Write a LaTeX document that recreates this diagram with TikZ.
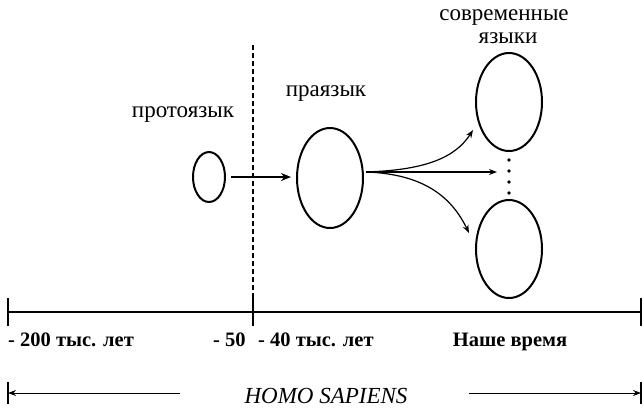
\documentclass[tikz,border=0pt]{standalone}
\usepackage{fontspec}
\setmainfont{Liberation Serif}
\usetikzlibrary{arrows.meta,shapes.geometric}
\begin{document}
\begin{tikzpicture}[x=1pt,y=-1pt,
  lang/.style={draw,ellipse,line width=2pt,inner sep=0pt},
  lbl/.style={font=\fontsize{23}{17}\selectfont,inner sep=0pt,anchor=base},
  tlbl/.style={font=\fontsize{20.5}{20}\selectfont\bfseries,inner sep=0pt,anchor=base west},
  arr/.style={-{Stealth[length=8pt,width=6pt]},line width=1.2pt},
  axis/.style={line width=2.6pt}]
\useasboundingbox (0,0) rectangle (644,408);
% timeline
\coordinate (t0) at (8,312);
\coordinate (t1) at (253,312);
\coordinate (t2) at (641,312);
\draw[axis] (t0) -- (t2);
\foreach \c in {t0,t1,t2} \draw[axis] ([yshift=-14pt]\c) -- ([yshift=14pt]\c);
\coordinate (dtop) at (253,45);
\draw[line width=1.2pt,dash pattern=on 5pt off 3pt] (dtop) -- ([yshift=-14pt]t1);
% ellipses
\node[lang,minimum width=32pt,minimum height=50pt] (proto) at (209,177) {};
\node[lang,minimum width=66pt,minimum height=100pt] (pra) at (330,178) {};
\node[lang,minimum width=66pt,minimum height=98pt] (m1) at (509,102) {};
\node[lang,minimum width=66pt,minimum height=98pt] (m2) at (509,249) {};
% dots
\foreach \y [count=\i] in {160,171,182,193} \fill (509,\y) circle (1.8pt);
% arrows
\coordinate (pa) at (231,177);
\coordinate (pb) at (291,177);
\draw[-{Stealth[length=10pt,width=8pt]},line width=2.2pt] (pa) -- (pb);
\coordinate (src) at (366,172);
\coordinate (ta) at (473,130);
\coordinate (tb) at (497,172);
\coordinate (tc) at (469,233);
\draw[arr] (src) .. controls (425,170) and (455,158) .. (ta);
\draw[arr] (src) -- (tb);
\draw[arr] (src) .. controls (425,174) and (452,198) .. (tc);
% labels
\node[lbl] (lproto) at (183,117) {протоязык};
\node[lbl] (lpra) at (326,96) {праязык};
\node[lbl] (lmod1) at (504,20) {современные};
\node[lbl,text height=11pt] (lmod2) at (508,43) {языки};
\node[tlbl] (l200) at (8,346) {- 200 тыс. лет};
\node[tlbl] (l50) at (213,346) {- 50};
\node[tlbl] (l40) at (258,346) {- 40 тыс. лет};
\node[tlbl,anchor=base] (lnow) at (510,346) {Наше время};
% homo sapiens
\node[lbl,font=\fontsize{23}{17}\selectfont\itshape] (hs) at (326,403) {HOMO SAPIENS};
\coordinate (hl) at (8,393);
\coordinate (hr) at (641,393);
\coordinate (hla) at (180,393);
\coordinate (hra) at (469,393);
\draw[-{Stealth[length=8pt,width=6pt]},line width=1pt] (hla) -- (hl);
\draw[-{Stealth[length=8pt,width=6pt]},line width=1pt] (hra) -- (hr);
\draw[line width=1.4pt] ([yshift=-11pt]hl) -- ([yshift=11pt]hl);
\draw[line width=1.4pt] ([yshift=-11pt]hr) -- ([yshift=11pt]hr);
\end{tikzpicture}
\end{document}
